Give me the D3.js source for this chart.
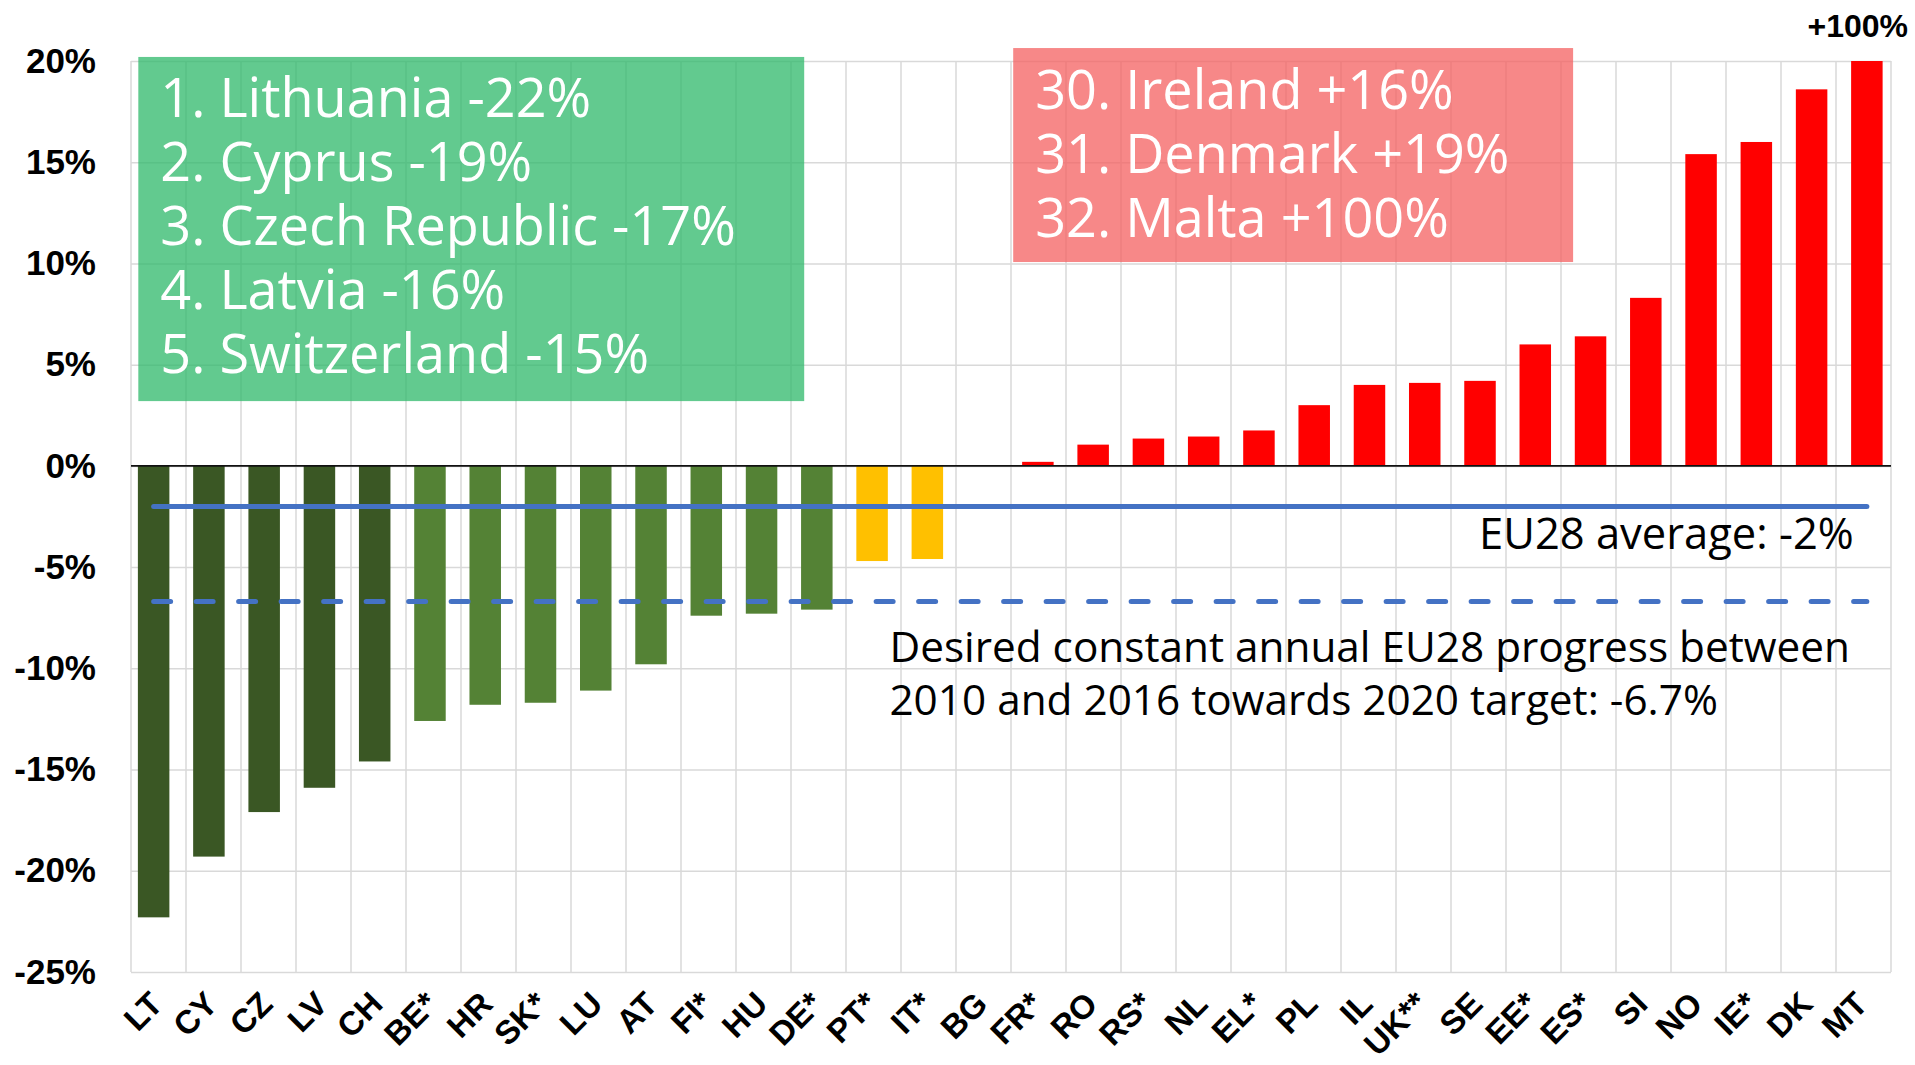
<!DOCTYPE html>
<html>
<meta charset="utf-8">
<script src="https://d3js.org/d3.v7.min.js"></script>
<style>
  body { margin: 0; background: #fff; }
</style>
<body>
<div id="chart"></div>
<script>
// country codes, ranked
var categories = ["LT", "CY", "CZ", "LV", "CH", "BE*", "HR", "SK*", "LU", "AT", "FI*", "HU", "DE*", "PT*", "IT*", "BG",
  "FR*", "RO", "RS*", "NL", "EL*", "PL", "IL", "UK**", "SE", "EE*", "ES*", "SI", "NO", "IE*", "DK", "MT"];
// annual change in %
var values = [-22.3, -19.3, -17.1, -15.9, -14.6, -12.6, -11.8, -11.7, -11.1, -9.8, -7.4, -7.3, -7.1, -4.7, -4.6, 0,
  0.2, 1.05, 1.35, 1.45, 1.75, 3.0, 4.0, 4.1, 4.2, 6.0, 6.4, 8.3, 15.4, 16.0, 18.6, 100];
// colour group of each bar
var groups = ["top", "top", "top", "top", "top", "good", "good", "good", "good", "good", "good", "good", "good",
  "mid", "mid", "mid", "bad", "bad", "bad", "bad", "bad", "bad", "bad", "bad", "bad", "bad", "bad", "bad",
  "bad", "bad", "bad", "bad"];
var yTicks = [-25, -20, -15, -10, -5, 0, 5, 10, 15, 20];
var euAverage = -2;
var euTarget = -6.7;

var bestList = ["1. Lithuania -22%", "2. Cyprus -19%", "3. Czech Republic -17%", "4. Latvia -16%", "5. Switzerland -15%"];
var worstList = ["30. Ireland +16%", "31. Denmark +19%", "32. Malta +100%"];

var colors = {top: "#3a5724", good: "#548235", mid: "#ffc000", bad: "#ff0000"};

var W = 1915, H = 1065;
var margin = {top: 61, right: 24, bottom: 93, left: 131};
var width = W - margin.left - margin.right,
    height = H - margin.top - margin.bottom;

var svg = d3.select("#chart").append("svg")
    .attr("width", W)
    .attr("height", H);

// category scale for grid and labels
var x = d3.scaleBand()
    .domain(categories)
    .range([margin.left, margin.left + width])
    .paddingInner(0.43)
    .paddingOuter(0.215);

// bars sit on a slightly wider spread than the grid (as in the original)
var xBar = d3.scaleBand()
    .domain(categories)
    .range([margin.left - 5, margin.left + width + 3.5])
    .paddingInner(0.43)
    .paddingOuter(0.215);

var y = d3.scaleLinear()
    .domain([-25, 20])
    .range([margin.top + height, margin.top]);

// position by step count from left edge of the plot
function xi(i) { return x.range()[0] + i * x.step(); }

// horizontal grid
svg.append("g")
    .attr("transform", "translate(" + margin.left + ",0)")
    .call(d3.axisLeft(y).tickValues(yTicks).tickSize(-width).tickFormat(""))
    .call(g => g.select(".domain").remove())
    .call(g => g.selectAll("line").attr("stroke", "#d9d9d9").attr("stroke-width", 1.5));

// vertical grid between categories
svg.append("g").selectAll("line")
    .data(d3.range(categories.length + 1))
    .join("line")
    .attr("x1", d => xi(d)).attr("x2", d => xi(d))
    .attr("y1", y(20)).attr("y2", y(-25))
    .attr("stroke", "#d9d9d9").attr("stroke-width", 1.5);

// y axis labels
svg.append("g")
    .attr("transform", "translate(" + margin.left + ",0)")
    .call(d3.axisLeft(y).tickValues(yTicks).tickSize(0).tickPadding(35).tickFormat(d => d + "%"))
    .call(g => g.select(".domain").remove())
    .selectAll("text")
    .attr("font-family", "'Liberation Sans', Arial, sans-serif")
    .attr("font-weight", "bold")
    .attr("font-size", 35)
    .attr("fill", "#000");

// annotation boxes
var green = svg.append("g");
green.append("rect")
    .attr("x", xi(0.133)).attr("width", xi(12.24) - xi(0.133))
    .attr("y", y(20.2)).attr("height", y(3.2) - y(20.2))
    .attr("fill", "#2eb86a").attr("opacity", 0.75);
green.selectAll("text")
    .data(bestList)
    .join("text")
    .attr("x", xi(0.133) + 22)
    .attr("y", (d, i) => y(20.2) + 60.5 + i * 64)
    .attr("font-family", "'Open Sans', sans-serif")
    .attr("font-size", 54)
    .attr("fill", "#fff")
    .text(d => d);

var red = svg.append("g");
red.append("rect")
    .attr("x", xi(16.04)).attr("width", xi(26.22) - xi(16.04))
    .attr("y", y(20.64)).attr("height", y(10.07) - y(20.64))
    .attr("fill", "#f46060").attr("opacity", 0.75);
red.selectAll("text")
    .data(worstList)
    .join("text")
    .attr("x", xi(16.04) + 22)
    .attr("y", (d, i) => y(20.64) + 60.5 + i * 64)
    .attr("font-family", "'Open Sans', sans-serif")
    .attr("font-size", 54)
    .attr("fill", "#fff")
    .text(d => d);

// bars (Malta is cut at the top of the axis)
var data = categories.map((c, i) => ({cat: c, val: values[i], grp: groups[i]}));
svg.append("g").selectAll("rect")
    .data(data.filter(d => d.val !== 0))
    .join("rect")
    .attr("x", d => xBar(d.cat))
    .attr("width", xBar.bandwidth())
    .attr("y", d => Math.min(y(Math.min(d.val, 20)), y(0)))
    .attr("height", d => Math.abs(y(Math.min(d.val, 20)) - y(0)))
    .attr("fill", d => colors[d.grp]);

// zero line
svg.append("line")
    .attr("x1", margin.left).attr("x2", margin.left + width)
    .attr("y1", y(0)).attr("y2", y(0))
    .attr("stroke", "#111").attr("stroke-width", 1.8);

// EU28 average and target lines
var line = d3.line()
    .x(d => xBar(d.cat) + xBar.bandwidth() / 2);

svg.append("path")
    .datum(data)
    .attr("d", line.y(() => y(euAverage)))
    .attr("fill", "none").attr("stroke", "#4472c4").attr("stroke-width", 5)
    .attr("stroke-linecap", "round");

svg.append("path")
    .datum(data)
    .attr("d", line.y(() => y(euTarget)))
    .attr("fill", "none").attr("stroke", "#4472c4").attr("stroke-width", 5)
    .attr("stroke-linecap", "round")
    .attr("stroke-dasharray", "17 25.5");

svg.append("text")
    .attr("x", x("MT") + 6)
    .attr("y", y(euAverage) + 42.5)
    .attr("text-anchor", "end")
    .attr("font-family", "'Open Sans', sans-serif")
    .attr("font-size", 43.5)
    .text("EU28 average: -2%");

svg.append("text")
    .attr("font-family", "'Open Sans', sans-serif")
    .attr("font-size", 42.3)
    .selectAll("tspan")
    .data(["Desired constant annual EU28 progress between", "2010 and 2016 towards 2020 target: -6.7%"])
    .join("tspan")
    .attr("x", xi(13.79))
    .attr("y", (d, i) => y(euTarget) + 60 + i * 53)
    .text(d => d);

// value above the clipped Malta bar
svg.append("text")
    .attr("x", margin.left + width + 17)
    .attr("y", 37)
    .attr("text-anchor", "end")
    .attr("font-family", "'Liberation Sans', Arial, sans-serif")
    .attr("font-weight", "bold")
    .attr("font-size", 32)
    .text("+" + values[values.length - 1] + "%");

// x axis labels, rotated
svg.append("g").selectAll("text")
    .data(categories)
    .join("text")
    .attr("transform", d => "translate(" + (x(d) + x.bandwidth() / 2 + 6) + "," + 1006 + ") rotate(-45)")
    .attr("text-anchor", "end")
    .attr("font-family", "'Liberation Sans', Arial, sans-serif")
    .attr("font-weight", "bold")
    .attr("font-size", 33)
    .text(d => d);
</script>
</body>
</html>
